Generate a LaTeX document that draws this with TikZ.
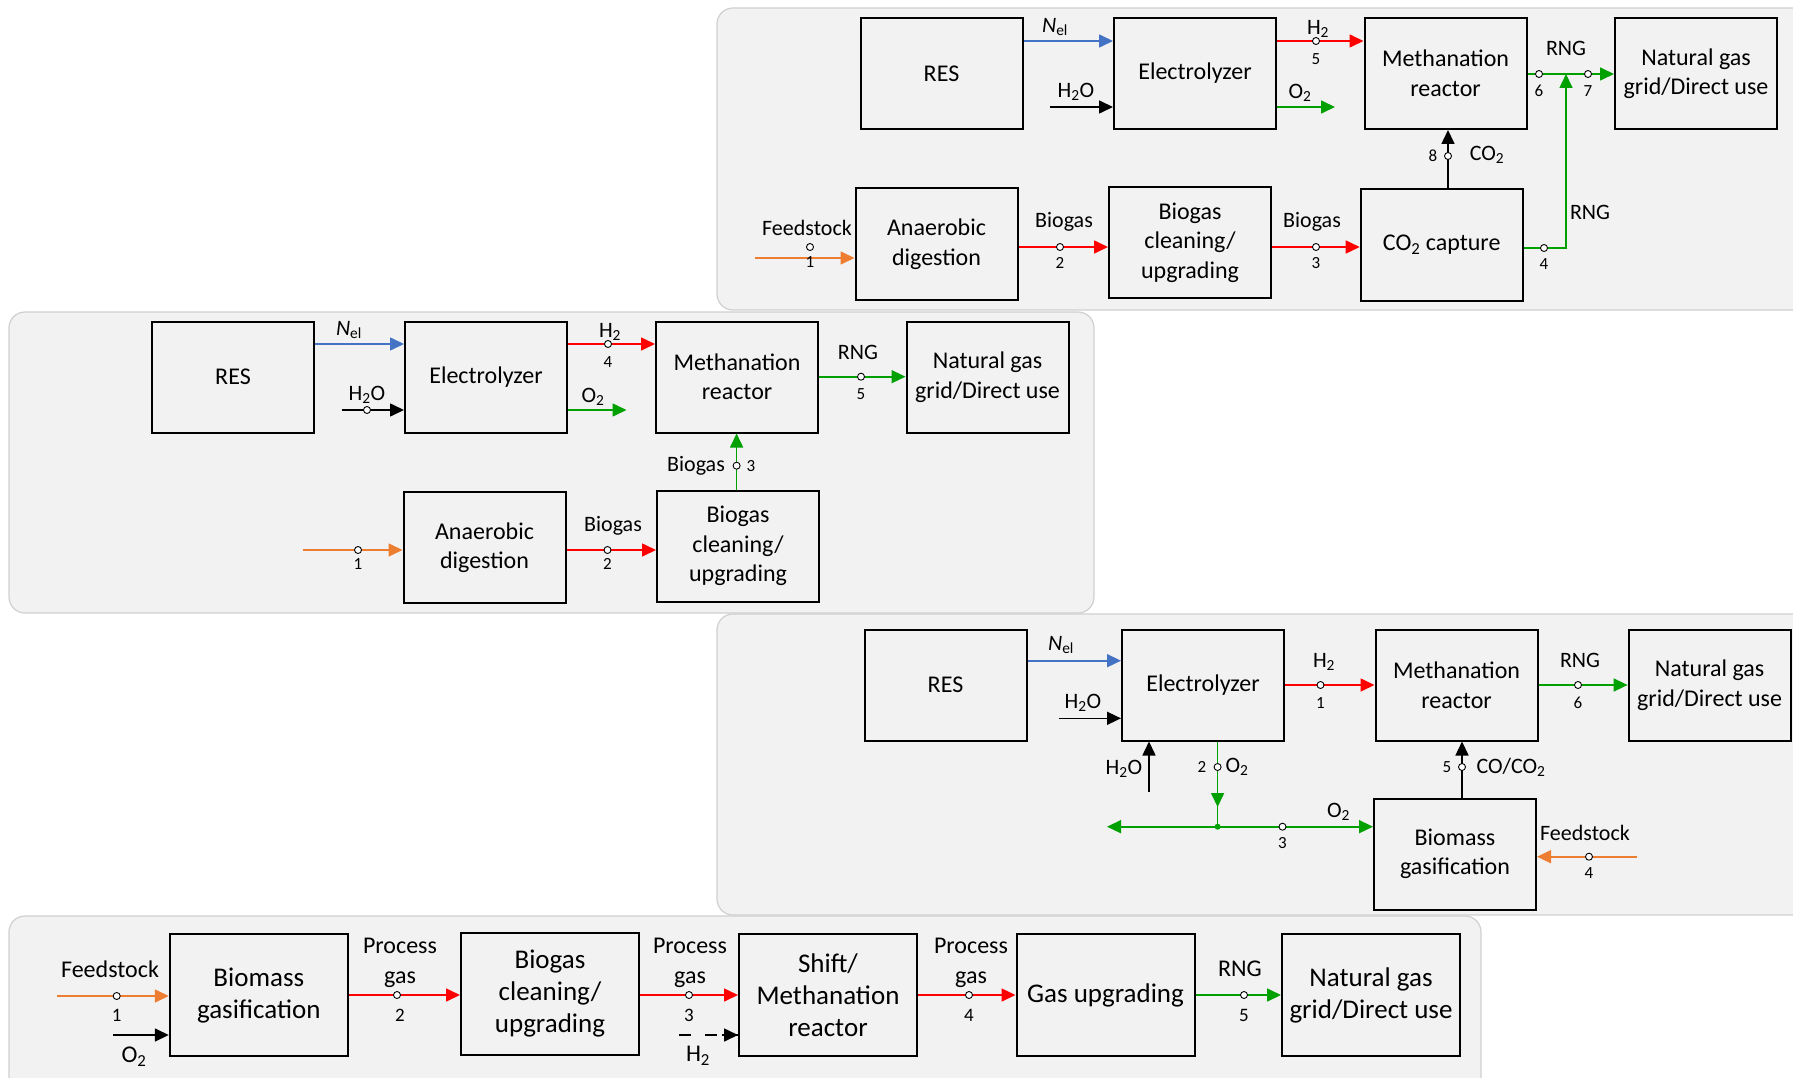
\documentclass[tikz,border=0pt]{standalone}
\usepackage{fontspec}
\setmainfont{Carlito}
\usetikzlibrary{arrows.meta}
\definecolor{panelbg}{HTML}{F2F2F2}
\definecolor{paneledge}{HTML}{D0D0D0}
\definecolor{cblue}{HTML}{4472C4}
\definecolor{cred}{HTML}{FF0000}
\definecolor{cgreen}{HTML}{00A000}
\definecolor{corange}{HTML}{ED7D31}
\begin{document}
\begin{tikzpicture}[x=1pt,y=-1pt,
 panel/.style={fill=panelbg, draw=paneledge, line width=1.2pt, rounded corners=16pt},
 blk/.style={draw=black, line width=2pt, fill=panelbg, minimum width=162pt, minimum height=111pt, align=center, inner sep=0pt, font=\fontsize{24}{29.5}\selectfont},
 blkB/.style={blk, minimum width=178pt, minimum height=122pt, font=\fontsize{27}{32}\selectfont},
 tipT/.tip={Triangle[length=14pt,width=13pt]},
 flow/.style={line width=1.6pt, -tipT},
 wire/.style={line width=1.6pt},
 pt/.style={circle, draw=black, fill=white, line width=0.9pt, inner sep=0pt, minimum size=7pt},
 lbl/.style={inner sep=0pt, font=\fontsize{22}{27}\selectfont, align=center},
 num/.style={inner sep=0pt, font=\fontsize{17}{20}\selectfont},
 lblB/.style={inner sep=0pt, font=\fontsize{24}{30}\selectfont, align=center},
 numB/.style={inner sep=0pt, font=\fontsize{19}{22}\selectfont},
]
\useasboundingbox (0,0) rectangle (1793,1078);
\clip (0,0) rectangle (1793,1078);

% ---------- panels ----------
\draw[panel] (717,8) rectangle (1815,310);
\draw[panel] (9,312) rectangle (1094,613);
\draw[panel] (717,614) rectangle (1815,915);
\draw[panel] (9,916) rectangle (1481,1100);

% ---------- panel 1 ----------
\node[blk] (RES1) at (941.5,73.5) {RES};
\node[blk] (EL1) at (1195,73.5) {Electrolyzer};
\node[blk] (MR1) at (1445.5,73.5) {Methanation\\reactor};
\node[blk] (NG1) at (1696,73.5) {Natural gas\\grid/Direct use};
\node[blk] (AD1) at (936.5,244) {Anaerobic\\digestion};
\node[blk] (BC1) at (1190,242.5) {Biogas\\cleaning/\\upgrading};
\node[blk] (CC1) at (1441.7,245) {CO\textsubscript{2} capture};

\draw[flow,cblue] (RES1.east |- 0,41) -- (EL1.west |- 0,41);
\node[lbl] (nel1) at (1055,27) {\textit{N}\textsubscript{el}};
\coordinate (h2o1) at (1050,107);
\draw[flow] (h2o1) -- (EL1.west |- h2o1);
\node[lbl] (h2o1l) at (1076,92) {H\textsubscript{2}O};
\draw[flow,cred] (EL1.east |- 0,41) -- (MR1.west |- 0,41);
\node[pt] (c1h2) at (1316,41) {};
\node[lbl] (h21) at (1318,29) {H\textsubscript{2}};
\node[num] (n15) at (1316,59) {5};
\coordinate (o21) at (1335,107);
\draw[flow,cgreen] (EL1.east |- o21) -- (o21);
\node[lbl] (o21l) at (1300,93) {O\textsubscript{2}};
\draw[flow,cgreen] (MR1.east |- 0,74) -- (NG1.west |- 0,74);
\coordinate (rj1) at (1566,74);
\draw[flow,cgreen] (CC1.east |- 0,248) -| (rj1);
\node[pt] (c16) at (1539,74) {};
\node[pt] (c17) at (1588,74) {};
\node[pt] (c14) at (1544,248) {};
\node[lbl] (rng1) at (1566,48) {RNG};
\node[num] (n16) at (1539,91) {6};
\node[num] (n17) at (1588,91) {7};
\node[num] (n14) at (1544,264) {4};
\node[lbl] (rng1b) at (1590,212) {RNG};
\draw[flow] (CC1.north -| 1448,0) -- (MR1.south -| 1448,0);
\node[pt] (c18) at (1448,156) {};
\node[num] (n18) at (1433,156) {8};
\node[lbl] (co21) at (1487,155) {CO\textsubscript{2}};
\coordinate (fs1) at (755,258);
\draw[flow,corange] (fs1) -- (AD1.west |- fs1);
\node[pt] (c11) at (810,247) {};
\node[num] (n11) at (810,262) {1};
\node[lbl] (fsl1) at (807,228) {Feedstock};
\draw[flow,cred] (AD1.east |- 0,247) -- (BC1.west |- 0,247);
\node[pt] (c12) at (1060,247) {};
\node[num] (n12) at (1060,263) {2};
\node[lbl] (bg1a) at (1064,222) {Biogas};
\draw[flow,cred] (BC1.east |- 0,247) -- (CC1.west |- 0,247);
\node[pt] (c13) at (1316,247) {};
\node[num] (n13) at (1316,263) {3};
\node[lbl] (bg1b) at (1312,222) {Biogas};

% ---------- panel 2 ----------
\node[blk] (RES2) at (233,377) {RES};
\node[blk] (EL2) at (486,377) {Electrolyzer};
\node[blk] (MR2) at (737,377) {Methanation\\reactor};
\node[blk] (NG2) at (987.5,377) {Natural gas\\grid/Direct use};
\node[blk] (AD2) at (484.5,547.5) {Anaerobic\\digestion};
\node[blk] (BC2) at (738,546) {Biogas\\cleaning/\\upgrading};

\draw[flow,cblue] (RES2.east |- 0,344) -- (EL2.west |- 0,344);
\node[lbl] (nel2) at (349,330) {\textit{N}\textsubscript{el}};
\coordinate (h2o2) at (341.6,410);
\draw[flow] (h2o2) -- (EL2.west |- h2o2);
\node[pt] (c2w) at (367,410) {};
\node[lbl] (h2o2l) at (367,395) {H\textsubscript{2}O};
\draw[flow,cred] (EL2.east |- 0,344) -- (MR2.west |- 0,344);
\node[pt] (c24) at (608,344) {};
\node[lbl] (h22) at (610,332) {H\textsubscript{2}};
\node[num] (n24) at (608,362) {4};
\coordinate (o22) at (626.5,410);
\draw[flow,cgreen] (EL2.east |- o22) -- (o22);
\node[lbl] (o22l) at (593,397) {O\textsubscript{2}};
\draw[flow,cgreen] (MR2.east |- 0,376.7) -- (NG2.west |- 0,376.7);
\node[pt] (c25) at (861,376.7) {};
\node[lbl] (rng2) at (858,352) {RNG};
\node[num] (n25) at (861,394) {5};
\draw[flow,cgreen] (BC2.north -| 736.6,0) -- (MR2.south -| 736.6,0);
\node[pt] (c23) at (736.6,465.7) {};
\node[lbl] (bg2v) at (696,466) {Biogas};
\node[num] (n23) at (751,466) {3};
\coordinate (fs2) at (303,550);
\draw[flow,corange] (fs2) -- (AD2.west |- fs2);
\node[pt] (c21) at (358,550) {};
\node[num] (n21) at (358,564) {1};
\draw[flow,cred] (AD2.east |- 0,550) -- (BC2.west |- 0,550);
\node[pt] (c22) at (607.5,550) {};
\node[num] (n22) at (607.5,564) {2};
\node[lbl] (bg2) at (613,526) {Biogas};

% ---------- panel 3 ----------
\node[blk] (RES3) at (945.5,685) {RES};
\node[blk] (EL3) at (1203,685) {Electrolyzer};
\node[blk] (MR3) at (1456.5,685) {Methanation\\reactor};
\node[blk] (NG3) at (1709.6,685) {Natural gas\\grid/Direct use};
\node[blk] (BG3) at (1455,854) {Biomass\\gasification};

\draw[flow,cblue] (RES3.east |- 0,660.7) -- (EL3.west |- 0,660.7);
\node[lbl] (nel3) at (1061,645) {\textit{N}\textsubscript{el}};
\coordinate (h2o3) at (1058.8,718.3);
\draw[flow] (h2o3) -- (EL3.west |- h2o3);
\node[lbl] (h2o3l) at (1083,703) {H\textsubscript{2}O};
\draw[flow,cred] (EL3.east |- 0,685) -- (MR3.west |- 0,685);
\node[pt] (c31) at (1320.5,685) {};
\node[lbl] (h23) at (1324,662) {H\textsubscript{2}};
\node[num] (n31) at (1320.5,703) {1};
\draw[flow,cgreen] (MR3.east |- 0,685) -- (NG3.west |- 0,685);
\node[pt] (c36) at (1578,685) {};
\node[lbl] (rng3) at (1580,660) {RNG};
\node[num] (n36) at (1578,703) {6};
\coordinate (h2o3b) at (1149,792);
\draw[flow] (h2o3b) -- (h2o3b |- EL3.south);
\node[lbl] (h2o3bl) at (1124,769) {H\textsubscript{2}O};
\coordinate (jn) at (1217.6,826.7);
\coordinate (o2tip) at (1217.6,807);
\draw[wire,cgreen] (EL3.south -| jn) -- (jn);
\draw[flow,cgreen] (EL3.south -| jn) -- (o2tip);
\node[pt] (c32) at (1217.6,767) {};
\node[num] (n32) at (1202,767) {2};
\node[lbl] (o23a) at (1237,767) {O\textsubscript{2}};
\coordinate (o2l) at (1107,826.7);
\draw[wire,cgreen,tipT-tipT] (o2l) -- (BG3.west |- o2l);
\fill[cgreen] (jn) circle (3pt);
\node[pt] (c33) at (1282.5,826.7) {};
\node[num] (n33) at (1282.5,843) {3};
\node[lbl] (o23b) at (1338.5,812) {O\textsubscript{2}};
\draw[flow] (BG3.north -| 1462,0) -- (MR3.south -| 1462,0);
\node[pt] (c35) at (1462,767) {};
\node[num] (n35) at (1447,767) {5};
\node[lbl] (coco2) at (1511,767) {CO/CO\textsubscript{2}};
\coordinate (fs3) at (1637,856.7);
\draw[flow,corange] (fs3) -- (BG3.east |- fs3);
\node[pt] (c34) at (1589,856.7) {};
\node[num] (n34) at (1589,873) {4};
\node[lbl] (fsl3) at (1585,833) {Feedstock};

% ---------- panel 4 ----------
\node[blkB] (BGA4) at (258.8,995.3) {Biomass\\gasification};
\node[blkB] (BC4) at (550,993.5) {Biogas\\cleaning/\\upgrading};
\node[blkB] (SM4) at (828,995.3) {Shift/\\Methanation\\reactor};
\node[blkB] (GU4) at (1105.5,995.3) {Gas upgrading};
\node[blkB] (NG4) at (1371,995.3) {Natural gas\\grid/Direct use};

\coordinate (fs4) at (57.4,996);
\draw[flow,corange] (fs4) -- (BGA4.west |- fs4);
\node[pt] (c41) at (116.7,996) {};
\node[numB] (n41) at (116.7,1015) {1};
\node[lblB] (fsl4) at (110,969) {Feedstock};
\coordinate (o24) at (113,1035);
\draw[flow] (o24) -- (BGA4.west |- o24);
\node[lblB] (o24l) at (134,1057) {O\textsubscript{2}};
\draw[flow,cred] (BGA4.east |- 0,995) -- (BC4.west |- 0,995);
\node[pt] (c42) at (397,995) {};
\node[numB] (n42) at (400,1015) {2};
\node[lblB] (pg2) at (400,963) {Process\\gas};
\draw[flow,cred] (BC4.east |- 0,995) -- (SM4.west |- 0,995);
\node[pt] (c43) at (689,995) {};
\node[numB] (n43) at (689,1015) {3};
\node[lblB] (pg3) at (690,963) {Process\\gas};
\coordinate (h24) at (679,1035);
\draw[line width=1.6pt, dash pattern=on 12pt off 14pt] (h24) -- (SM4.west |- h24);
\draw[flow] ([xshift=-16pt]SM4.west |- h24) -- (SM4.west |- h24);
\node[lblB] (h24l) at (698,1056) {H\textsubscript{2}};
\draw[flow,cred] (SM4.east |- 0,995) -- (GU4.west |- 0,995);
\node[pt] (c44) at (969,995) {};
\node[numB] (n44) at (969,1015) {4};
\node[lblB] (pg4) at (971,963) {Process\\gas};
\draw[flow,cgreen] (GU4.east |- 0,995) -- (NG4.west |- 0,995);
\node[pt] (c45) at (1244,995) {};
\node[numB] (n45) at (1244,1015) {5};
\node[lblB] (rng4) at (1240,969) {RNG};
\end{tikzpicture}
\end{document}
